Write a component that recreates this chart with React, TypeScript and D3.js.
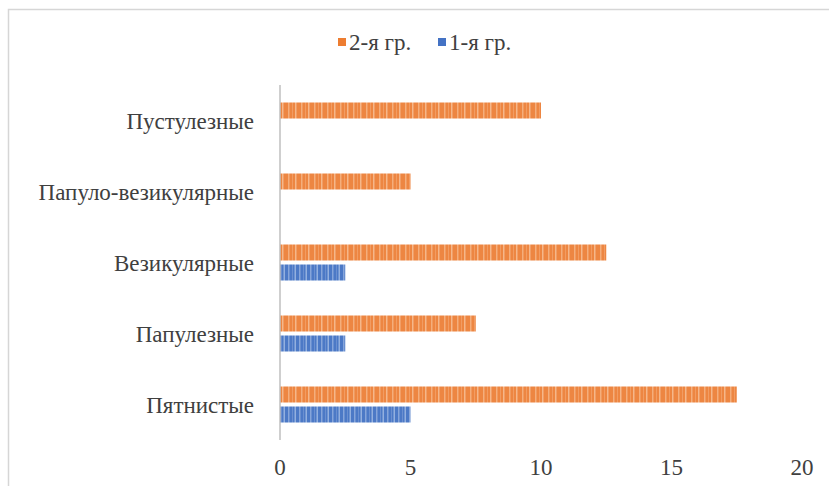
import React from "react";
import * as d3 from "d3";

const categories = ["Пустулезные", "Папуло-везикулярные", "Везикулярные", "Папулезные", "Пятнистые"];
const group2 = [10, 5, 12.5, 7.5, 17.5];
const group1 = [0, 0, 2.5, 2.5, 5];
const seriesNames = ["2-я гр.", "1-я гр."];
const xTicks = [0, 5, 10, 15, 20];

const W = 829;
const H = 486;
const FONT = "'Liberation Serif', Tinos, 'Times New Roman', 'DejaVu Serif', serif";

export default function App() {
  const x = d3.scaleLinear().domain([0, 20]).range([280, 802]);
  const y = d3.scaleBand<string>().domain(categories).range([85, 440]).paddingInner(0).paddingOuter(0);
  const inner = d3.scaleBand<string>().domain(["g2", "g1"]).range([y.bandwidth() / 2 - 18, y.bandwidth() / 2 + 18]).paddingInner(0.2);

  const series = [
    { key: "g2", values: group2, fill: "url(#stripeOrange)" },
    { key: "g1", values: group1, fill: "url(#stripeBlue)" },
  ];

  return (
    <svg width={W} height={H} style={{ position: "absolute", left: 0, top: 0, background: "#fff" }}>
      <defs>
        <pattern id="stripeOrange" patternUnits="userSpaceOnUse" width="13" height="20">
          <rect width="13" height="20" fill="#ED8642" />
          <rect x="2" width="1.5" height="20" fill="#F4AE7C" />
          <rect x="6" width="1" height="20" fill="#F29C62" />
          <rect x="9" width="1.5" height="20" fill="#F5B78A" />
        </pattern>
        <pattern id="stripeBlue" patternUnits="userSpaceOnUse" width="11" height="20">
          <rect width="11" height="20" fill="#4C79C6" />
          <rect x="2" width="1.5" height="20" fill="#86A5DA" />
          <rect x="6" width="1" height="20" fill="#6A8FD0" />
          <rect x="8.5" width="1.5" height="20" fill="#93B0DF" />
        </pattern>
      </defs>
      <rect x={8.5} y={9.5} width={830} height={490} fill="#fff" stroke="#d6d6d6" strokeWidth={1.5} />

      {/* legend */}
      <g fontFamily={FONT} fontSize={23} fill="#404040">
        <rect x={338} y={38} width={8} height={8} fill="#ED7D31" />
        <text x={349} y={50}>{seriesNames[0]}</text>
        <rect x={438} y={38} width={8} height={8} fill="#4472C4" />
        <text x={449} y={50}>{seriesNames[1]}</text>
      </g>

      {/* bars */}
      {series.map((s) =>
        categories.map((c, i) =>
          s.values[i] > 0 ? (
            <rect
              key={s.key + c}
              x={x(0)}
              y={(y(c) ?? 0) + (inner(s.key) ?? 0)}
              width={x(s.values[i]) - x(0)}
              height={inner.bandwidth()}
              fill={s.fill}
            />
          ) : null
        )
      )}

      {/* category axis */}
      <line x1={280} x2={280} y1={y.range()[0]} y2={y.range()[1]} stroke="#bfbfbf" strokeWidth={1.5} />
      <g fontFamily={FONT} fontSize={23} fill="#404040" textAnchor="end">
        {categories.map((c) => (
          <text key={c} x={254} y={(y(c) ?? 0) + y.bandwidth() / 2 + 8}>
            {c}
          </text>
        ))}
      </g>

      {/* value axis labels */}
      <g fontFamily={FONT} fontSize={23} fill="#404040" textAnchor="middle">
        {xTicks.map((t) => (
          <text key={t} x={x(t)} y={475}>
            {t}
          </text>
        ))}
      </g>
    </svg>
  );
}
